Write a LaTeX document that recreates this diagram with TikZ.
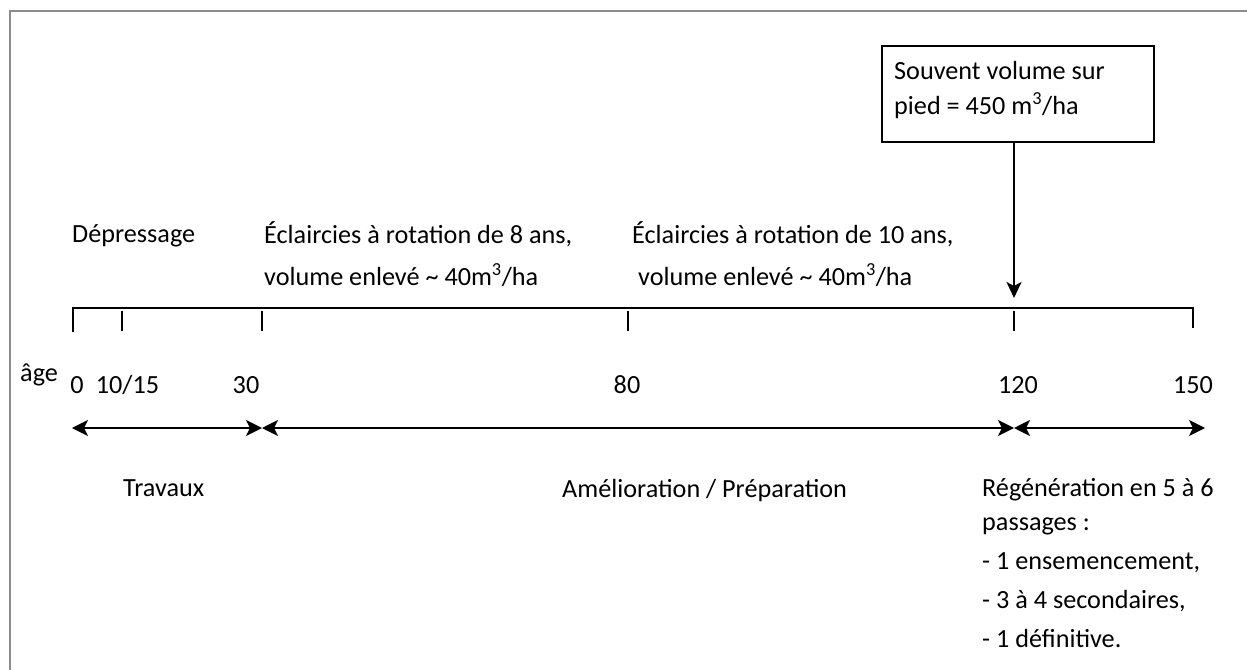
\documentclass[tikz,border=0pt]{standalone}
\usepackage{fontspec}
\setmainfont{Carlito}
\usetikzlibrary{arrows.meta}
\begin{document}
\begin{tikzpicture}[x=1pt,y=-1pt,
  txt/.style={anchor=base west,inner sep=0pt,font=\fontsize{26.2}{31}\selectfont},
  num/.style={anchor=base,inner sep=0pt,font=\fontsize{26.2}{31}\selectfont},
  axis/.style={line width=2pt},
  dbl/.style={line width=2pt,{Stealth[length=16pt,width=16pt,inset=4pt]}-{Stealth[length=16pt,width=16pt,inset=4pt]}},
  down/.style={line width=2pt,-{Stealth[length=16pt,width=15pt,inset=4pt]}},
  boxst/.style={draw,line width=2pt,minimum width=272pt,minimum height=96pt,inner sep=0pt}]
\useasboundingbox (0,0) rectangle (1247,669);
% frame
\draw[black!45,line width=2pt] (10,700) -- (10,11) -- (1260,11);
% timeline
\coordinate (tl0) at (73,332);
\coordinate (tl1) at (1193,328);
\draw[axis] (tl0) -- (73,308) -- (1193,308) -- (tl1);
\foreach \n/\x in {t10/122,t30/262,t80/628,t120/1014}
  \draw[axis] (\x,311) coordinate (\n) -- (\x,331);
% box and arrow
\node[boxst] (box) at (1018,94) {};
\node[txt] (b1) at (894,79) {Souvent volume sur};
\node[txt] (b2) at (894,114) {pied = 450 m\textsuperscript{3}/ha};
\coordinate (tip) at (1014,298);
\draw[down] (box.south -| tip) -- (tip);
% top texts
\node[txt] (dep) at (72,242) {Dépressage};
\node[txt] (e8a) at (264,243) {Éclaircies à rotation de 8 ans,};
\node[txt] (e8b) at (264,285) {volume enlevé \textasciitilde{} 40m\textsuperscript{3}/ha};
\node[txt] (e10a) at (632,243) {Éclaircies à rotation de 10 ans,};
\node[txt] (e10b) at (638,285) {volume enlevé \textasciitilde{} 40m\textsuperscript{3}/ha};
% ages
\node[txt] (age) at (20,381) {âge};
\node[num] (n0) at (77,393) {0};
\node[num] (n10) at (127.5,393) {10/15};
\node[num] (n30) at (246,393) {30};
\node[num] (n80) at (627,393) {80};
\node[num] (n120) at (1018,393) {120};
\node[num] (n150) at (1193,393) {150};
% period arrows
\coordinate (a0) at (72,428);
\coordinate (a30) at (262,428);
\coordinate (a120) at (1014,428);
\coordinate (aend) at (1205,428);
\draw[dbl] (a0) -- (a30);
\draw[dbl] (a30) -- (a120);
\draw[dbl] (a120) -- (aend);
% bottom texts
\node[txt] (trav) at (123,496) {Travaux};
\node[txt] (amel) at (562,497) {Amélioration / Préparation};
\node[txt] (r1) at (982,496) {Régénération en 5 à 6};
\node[txt] (r2) at (982,530) {passages :};
\node[txt] (r3) at (982,569) {- 1 ensemencement,};
\node[txt] (r4) at (982,608) {- 3 à 4 secondaires,};
\node[txt] (r5) at (982,647) {- 1 définitive.};
\end{tikzpicture}
\end{document}
